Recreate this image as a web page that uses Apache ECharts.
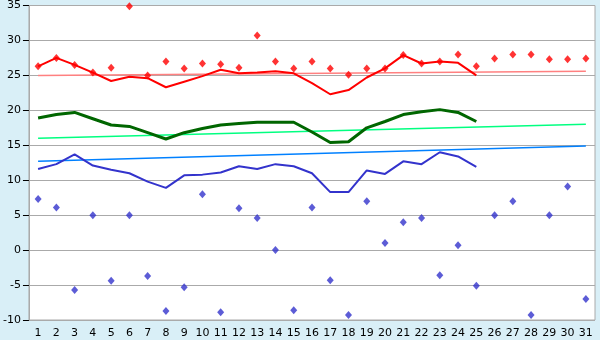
<!DOCTYPE html>
<html>
<head>
<meta charset="utf-8">
<script src="https://cdn.jsdelivr.net/npm/echarts@6/dist/echarts.min.js"></script>
<style>
  html, body { margin: 0; padding: 0; background: #d9eff7; }
  #chart { width: 600px; height: 340px; }
</style>
</head>
<body>
<div id="chart"></div>
<script>
// days of the month
const days = [];
for (let d = 1; d <= 31; d++) days.push(String(d));

// daily max / min (diamonds)
const dailyMax = [26.3, 27.5, 26.5, 25.4, 26.1, 34.9, 25.0, 27.0, 26.0, 26.7, 26.6, 26.1, 30.7, 27.0, 26.0, 27.0,
  26.0, 25.1, 26.0, 26.0, 27.9, 26.7, 27.0, 28.0, 26.3, 27.4, 28.0, 28.0, 27.3, 27.3, 27.4];
const dailyMin = [7.3, 6.1, -5.7, 5.0, -4.4, 5.0, -3.7, -8.7, -5.3, 8.0, -8.9, 6.0, 4.6, 0.0, -8.6, 6.1,
  -4.3, -9.3, 7.0, 1.0, 4.0, 4.6, -3.6, 0.7, -5.1, 5.0, 7.0, -9.3, 5.0, 9.1, -7.0];

// running lines (days 1-25)
const maxLine = [26.3, 27.5, 26.5, 25.4, 24.2, 24.8, 24.6, 23.3, 24.1, 24.9, 25.8, 25.3, 25.4, 25.6, 25.3, 23.9,
  22.3, 22.9, 24.7, 26.0, 27.9, 26.7, 27.0, 26.8, 25.0];
const meanLine = [18.9, 19.4, 19.7, 18.8, 17.9, 17.7, 16.8, 15.9, 16.8, 17.4, 17.9, 18.1, 18.3, 18.3, 18.3, 16.9,
  15.4, 15.5, 17.5, 18.4, 19.4, 19.8, 20.1, 19.7, 18.4];
const minLine = [11.6, 12.3, 13.7, 12.1, 11.5, 11.0, 9.8, 8.9, 10.7, 10.8, 11.1, 12.0, 11.6, 12.3, 12.0, 11.0,
  8.3, 8.3, 11.4, 10.9, 12.7, 12.3, 14.0, 13.4, 11.9];

// trend lines: [first day, last day] values
const maxTrend = [25.0, 25.6];
const meanTrend = [16.0, 18.0];
const minTrend = [12.7, 14.9];

const yTicks = { min: -10, max: 35, interval: 5 };

const chart = echarts.init(document.getElementById('chart'));

function trend(vals, color) {
  return {
    type: 'line',
    data: [[days[0], vals[0]], [days[days.length - 1], vals[1]]],
    symbol: 'none',
    lineStyle: { color: color, width: 1.5 },
    z: 1,
    silent: true
  };
}
function curve(vals, color, w) {
  return {
    type: 'line',
    data: vals,
    symbol: 'none',
    lineStyle: { color: color, width: w },
    z: 3
  };
}
function dots(vals, color) {
  return {
    type: 'scatter',
    data: vals,
    symbol: 'diamond',
    symbolSize: [7, 8],
    itemStyle: { color: color },
    z: 4
  };
}

chart.setOption({
  backgroundColor: '#d9eff7',
  animation: false,
  textStyle: { fontFamily: 'DejaVu Sans' },
  grid: {
    left: 27, right: 5, top: 5, bottom: 20,
    show: true, backgroundColor: '#fff', borderColor: '#aaa', borderWidth: 1
  },
  xAxis: {
    type: 'category',
    data: days,
    boundaryGap: true,
    axisLine: { lineStyle: { color: '#aaa' } },
    axisTick: { alignWithLabel: true, length: 6, lineStyle: { color: '#000' } },
    axisLabel: { color: '#000', fontSize: 11, margin: 8, interval: 0 },
    splitLine: { show: false }
  },
  yAxis: {
    type: 'value',
    min: yTicks.min, max: yTicks.max, interval: yTicks.interval,
    axisLine: { show: true, lineStyle: { color: '#aaa' } },
    axisTick: { show: true, length: 6, lineStyle: { color: '#000' } },
    axisLabel: { color: '#000', fontSize: 11, margin: 8 },
    splitLine: { lineStyle: { color: '#aaa' } }
  },
  series: [
    trend(maxTrend, '#ff8080'),
    trend(meanTrend, '#00ff80'),
    trend(minTrend, '#0080ff'),
    curve(maxLine, '#ff0000', 2),
    curve(meanLine, '#006600', 3),
    curve(minLine, '#3333cc', 2),
    dots(dailyMax, '#ff0000'),
    dots(dailyMin, '#3333cc')
  ]
});
</script>
</body>
</html>
